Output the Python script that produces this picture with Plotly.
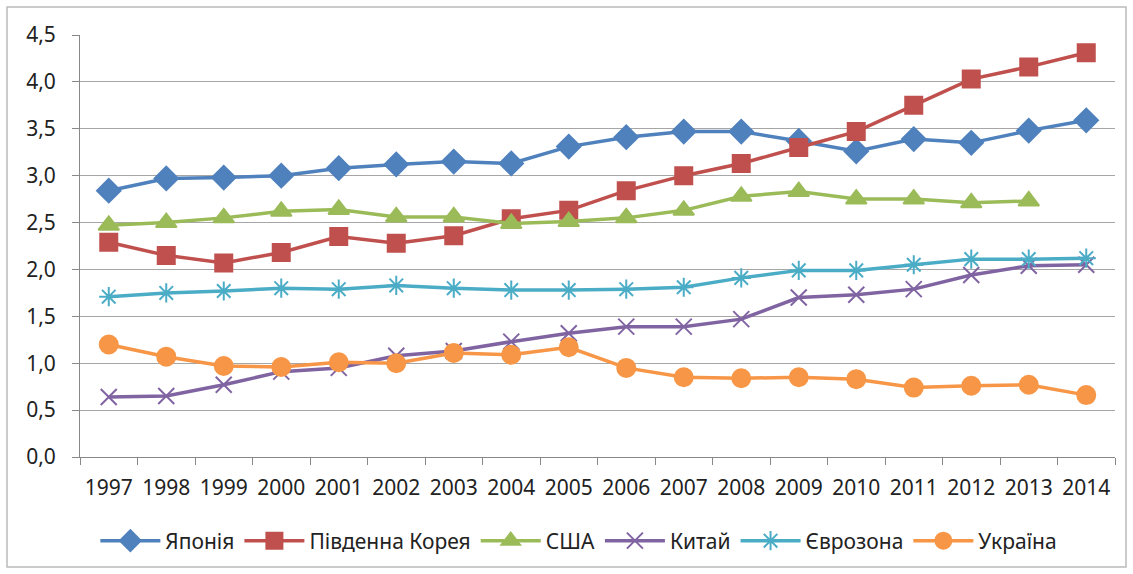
import plotly.graph_objects as go

years = [str(y) for y in range(1997, 2015)]
japan = [2.84, 2.97, 2.98, 3.00, 3.08, 3.12, 3.15, 3.13, 3.31, 3.41, 3.47, 3.47, 3.37, 3.26, 3.39, 3.35, 3.48, 3.59]
korea = [2.29, 2.15, 2.07, 2.18, 2.35, 2.28, 2.36, 2.54, 2.63, 2.84, 3.00, 3.13, 3.30, 3.47, 3.75, 4.03, 4.16, 4.31]
usa = [2.47, 2.50, 2.55, 2.62, 2.64, 2.56, 2.56, 2.49, 2.51, 2.55, 2.63, 2.78, 2.83, 2.75, 2.75, 2.71, 2.73, None]
china = [0.64, 0.65, 0.77, 0.91, 0.95, 1.08, 1.13, 1.23, 1.32, 1.39, 1.39, 1.47, 1.70, 1.73, 1.79, 1.94, 2.04, 2.05]
euro = [1.71, 1.75, 1.77, 1.80, 1.79, 1.83, 1.80, 1.78, 1.78, 1.79, 1.81, 1.91, 1.99, 1.99, 2.05, 2.11, 2.11, 2.12]
ukraine = [1.20, 1.07, 0.97, 0.96, 1.01, 1.00, 1.11, 1.09, 1.17, 0.95, 0.85, 0.84, 0.85, 0.83, 0.74, 0.76, 0.77, 0.66]

y_ticks = [0, 0.5, 1.0, 1.5, 2.0, 2.5, 3.0, 3.5, 4.0, 4.5]
y_labels = ["0,0", "0,5", "1,0", "1,5", "2,0", "2,5", "3,0", "3,5", "4,0", "4,5"]

series = [
    ("Японія", japan, "#4F81BD", "diamond", 18),
    ("Південна Корея", korea, "#C0504D", "square", 17),
    ("США", usa, "#9BBB59", "triangle-up", 18),
    ("Китай", china, "#8064A2", "x-thin-open", 16),
    ("Єврозона", euro, "#4BACC6", "asterisk-open", 16),
    ("Україна", ukraine, "#F79646", "circle", 18),
]

fig = go.Figure()
for name, vals, color, sym, size in series:
    fig.add_trace(go.Scatter(
        x=years, y=vals, name=name, mode="lines+markers",
        line=dict(color=color, width=3.5),
        marker=dict(symbol=sym, size=size, color=color,
                    line=dict(color=color, width=2)),
    ))

W, H = 1133, 574
ml, mr, mt, mb = 80, 18, 35, 117
pw, ph = W - ml - mr, H - mt - mb

fig.update_layout(
    width=W, height=H,
    margin=dict(l=ml, r=mr, t=mt, b=mb),
    paper_bgcolor="white", plot_bgcolor="white",
    font=dict(family="Noto Sans", size=21, color="#222222"),
    showlegend=True,
    legend=dict(orientation="h", x=0.482, xanchor="center", y=(457 - 541) / ph, yanchor="middle",
                font=dict(size=21), traceorder="normal", itemwidth=60),
    xaxis=dict(type="category", range=[-0.5, 17.5], showgrid=False,
               showline=True, linecolor="#888888", linewidth=1,
               ticks="outside", ticklen=7, tickcolor="#888888", tickson="boundaries",
               ticklabelstandoff=12, tickfont=dict(size=21)),
    yaxis=dict(range=[0, 4.5], tickvals=y_ticks, ticktext=y_labels,
               showgrid=True, gridcolor="#A6A6A6", gridwidth=1,
               showline=True, linecolor="#888888", linewidth=1,
               ticks="outside", ticklen=7, tickcolor="#888888",
               ticklabelstandoff=12,
               zeroline=False, tickfont=dict(size=21)),
    shapes=[dict(type="rect", xref="paper", yref="paper",
                 x0=(7 - ml) / pw, x1=(1126 - ml) / pw,
                 y0=(457 - 567) / ph, y1=(457 - 7) / ph,
                 line=dict(color="#BBBBBB", width=1.5), fillcolor="rgba(0,0,0,0)")],
)

fig.write_html("out.html", config={"displayModeBar": False},
               post_script="document.body.style.margin='0';document.body.style.overflow='hidden';")
